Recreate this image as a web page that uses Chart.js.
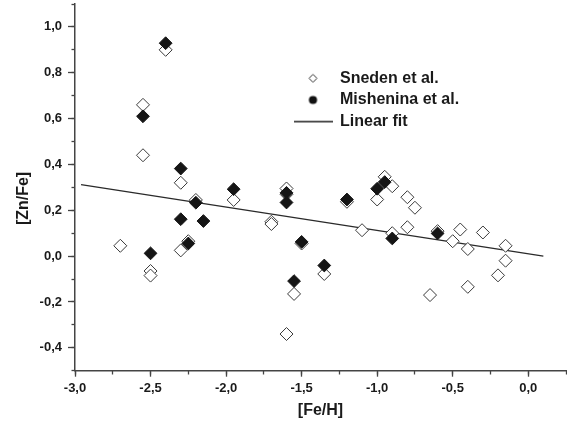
<!DOCTYPE html>
<html><head><meta charset="utf-8">
<script src="https://cdn.jsdelivr.net/npm/chart.js@4/dist/chart.umd.min.js"></script>
<style>html,body{margin:0;padding:0;background:#fff}canvas{display:block}</style>
</head><body>
<canvas id="c" width="567" height="430"></canvas>
<script>
// ---- data ----
const snedenFeH  = [-2.70,-2.55,-2.55,-2.50,-2.50,-2.40,-2.30,-2.30,-2.25,-2.20,-1.95,-1.70,-1.70,-1.60,-1.60,-1.60,-1.55,-1.50,-1.35,-1.20,-1.10,-1.00,-0.95,-0.90,-0.90,-0.80,-0.80,-0.75,-0.65,-0.60,-0.50,-0.45,-0.40,-0.40,-0.30,-0.20,-0.15,-0.15];
const snedenZnFe = [0.045,0.66,0.44,-0.065,-0.085,0.90,0.32,0.025,0.065,0.245,0.245,0.15,0.14,0.295,0.27,-0.34,-0.165,0.055,-0.078,0.237,0.113,0.247,0.346,0.305,0.10,0.257,0.126,0.211,-0.17,0.109,0.065,0.116,0.031,-0.134,0.103,-0.084,0.045,-0.02];
const mishFeH  = [-2.55,-2.50,-2.40,-2.30,-2.30,-2.25,-2.20,-2.15,-1.95,-1.60,-1.60,-1.55,-1.50,-1.35,-1.20,-1.00,-0.95,-0.90,-0.60];
const mishZnFe = [0.61,0.012,0.929,0.382,0.161,0.055,0.233,0.153,0.292,0.276,0.234,-0.109,0.062,-0.041,0.247,0.294,0.323,0.077,0.099];
const fitFeH  = [-2.96, 0.10];
const fitZnFe = [0.312, 0.0];
const seriesNames = ['Sneden et al.', 'Mishenina et al.', 'Linear fit'];
const xTitle = '[Fe/H]';
const yTitle = '[Zn/Fe]';
const xMajorTicks = [-3.0,-2.5,-2.0,-1.5,-1.0,-0.5,0.0];
const xMinorTicks = [-3.0,-2.75,-2.5,-2.25,-2.0,-1.75,-1.5,-1.25,-1.0,-0.75,-0.5,-0.25,0.0,0.25];
const yMajorTicks = [-0.4,-0.2,0.0,0.2,0.4,0.6,0.8,1.0];
const yMinorTicks = [-0.5,-0.4,-0.3,-0.2,-0.1,0.0,0.1,0.2,0.3,0.4,0.5,0.6,0.7,0.8,0.9,1.0,1.1];

const FONT = "'Liberation Sans', Arial, Helvetica, sans-serif";
const TXT = '#1a1a1a';
const AX = '#444';
const pts = (xs, ys) => xs.map((x, i) => ({x, y: ys[i]}));
const fmt = v => Number(v).toFixed(1).replace('.', ',');
const zeroPad = s => { s.paddingTop = 0; s.paddingBottom = 0; s.paddingLeft = 0; s.paddingRight = 0; };
const setTicks = arr => s => { s.ticks = arr.map(v => ({value: v})); };

// legend symbols
function sym(kind) {
  const c = document.createElement('canvas');
  const g = c.getContext('2d');
  if (kind === 'diamond') {
    c.width = 11; c.height = 11;
    g.beginPath(); g.moveTo(5.5,1.5); g.lineTo(9.5,5.5); g.lineTo(5.5,9.5); g.lineTo(1.5,5.5); g.closePath();
    g.fillStyle = '#fff'; g.fill(); g.strokeStyle = '#333'; g.lineWidth = 1; g.stroke();
  } else if (kind === 'dot') {
    c.width = 11; c.height = 11;
    g.beginPath(); g.arc(5.5,5.5,4.1,0,Math.PI*2); g.fillStyle = '#111'; g.fill();
  } else {
    c.width = 39; c.height = 3;
    g.beginPath(); g.moveTo(0,1.5); g.lineTo(39,1.5); g.strokeStyle = '#222'; g.lineWidth = 1.3; g.stroke();
  }
  return c;
}
const legendSymbols = [sym('diamond'), sym('dot'), sym('line')];

const legendMover = {
  id: 'legendMover',
  afterLayout(chart) {
    const lg = chart.legend; if (!lg) return;
    const w = lg.width, h = lg.height;
    lg.left = 288.3; lg.top = 64.6; lg.right = lg.left + w; lg.bottom = lg.top + h;
  }
};

new Chart(document.getElementById('c'), {
  type: 'scatter',
  data: {
    datasets: [
      { label: seriesNames[0], data: pts(snedenFeH, snedenZnFe), pointStyle: 'rectRot', pointRadius: 6.5, pointHoverRadius: 6.5,
        backgroundColor: '#fff', borderColor: '#3a3a3a', borderWidth: 1, order: 1 },
      { label: seriesNames[1], data: pts(mishFeH, mishZnFe), pointStyle: 'rectRot', pointRadius: 6.4, pointHoverRadius: 6.4,
        backgroundColor: '#151515', borderColor: '#151515', borderWidth: 1, order: 0 },
      { label: seriesNames[2], data: pts(fitFeH, fitZnFe), showLine: true, pointRadius: 0, borderColor: '#2a2a2a', borderWidth: 1.4, order: 2 }
    ]
  },
  options: {
    responsive: false, animation: false, devicePixelRatio: 1,
    layout: { autoPadding: false, padding: { top: 4, right: 1, bottom: 0, left: 0 } },
    plugins: {
      tooltip: { enabled: false },
      legend: {
        display: true, position: 'chartArea', align: 'start',
        labels: {
          usePointStyle: true, pointStyleWidth: 38, padding: 5.7,
          font: { family: FONT, size: 16, weight: 'bold' }, color: TXT,
          generateLabels: chart => chart.data.datasets.map((ds, i) => ({
            text: ds.label, pointStyle: legendSymbols[i], fillStyle: '#000', strokeStyle: '#000',
            lineWidth: 0, hidden: false, datasetIndex: i, fontColor: TXT
          }))
        }
      }
    },
    scales: {
      x: {
        type: 'linear', position: 'bottom', min: -3, max: 0.25,
        afterBuildTicks: setTicks(xMajorTicks),
        afterFit: s => { s.height = 59.3; zeroPad(s); },
        ticks: { padding: 4, color: TXT, font: { family: FONT, size: 13, weight: 'bold' }, callback: v => fmt(v), maxRotation: 0, autoSkip: false },
        grid: { drawOnChartArea: false, drawTicks: true, tickLength: 6, tickColor: AX, tickWidth: 1.3 },
        border: { display: true, color: AX, width: 1.5 },
        title: { display: true, text: xTitle, color: TXT, font: { family: FONT, size: 16, weight: 'bold' }, padding: { top: 0, bottom: 10 } }
      },
      xMinor: {
        type: 'linear', axis: 'x', position: { y: -0.5 }, min: -3, max: 0.25,
        afterBuildTicks: setTicks(xMinorTicks), afterFit: zeroPad,
        ticks: { display: false },
        grid: { drawOnChartArea: false, drawTicks: true, tickLength: 3.5, tickColor: AX, tickWidth: 1.3 },
        border: { display: false }
      },
      y: {
        type: 'linear', position: 'left', min: -0.5, max: 1.1,
        afterBuildTicks: setTicks(yMajorTicks),
        afterFit: s => { s.width = 75; zeroPad(s); },
        ticks: { padding: 6, color: TXT, font: { family: FONT, size: 13, weight: 'bold' }, callback: v => fmt(v), autoSkip: false },
        grid: { drawOnChartArea: false, drawTicks: true, tickLength: 7, tickColor: AX, tickWidth: 1.3 },
        border: { display: true, color: AX, width: 1.5 },
        title: { display: true, text: yTitle + '     ', color: TXT, font: { family: FONT, size: 16, weight: 'bold' }, padding: { top: 14.4, bottom: 0 } }
      },
      yMinor: {
        type: 'linear', axis: 'y', position: { x: -3 }, min: -0.5, max: 1.1,
        afterBuildTicks: setTicks(yMinorTicks), afterFit: zeroPad,
        ticks: { display: false },
        grid: { drawOnChartArea: false, drawTicks: true, tickLength: 3.5, tickColor: AX, tickWidth: 1.3 },
        border: { display: false }
      }
    }
  },
  plugins: [legendMover]
});
</script>
</body></html>
